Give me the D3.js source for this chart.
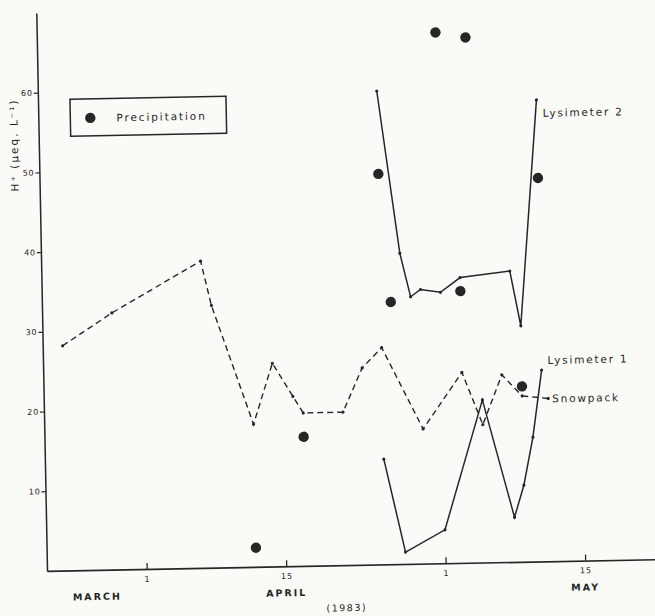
<!DOCTYPE html>
<html>
<head>
<meta charset="utf-8">
<style>
  body { margin: 0; background: #fafaf7; }
  svg { display: block; font-family: "DejaVu Sans", sans-serif; }
</style>
</head>
<body>
<div id="container"></div>
<script src="https://d3js.org/d3.v7.min.js"></script>
<script>

// Values (H+ in ueq/L), 1983.
const snowDates = ["1983-03-24", "1983-03-29", "1983-04-07", "1983-04-08", "1983-04-12", "1983-04-14",
                   "1983-04-16", "1983-04-17", "1983-04-21", "1983-04-23", "1983-04-25", "1983-04-29",
                   "1983-05-03", "1983-05-05", "1983-05-07", "1983-05-09"];
const snowValues = [28.2, 32.2, 38.5, 32.9, 17.9, 25.5, 21.3, 19.2, 19.2, 24.7, 27.2, 16.9, 23.9, 17.3, 23.5, 20.8];

const lys1Dates = ["1983-04-25", "1983-04-27", "1983-05-01", "1983-05-05", "1983-05-08", "1983-05-09", "1983-05-10", "1983-05-11"];
const lys1Values = [13.2, 1.5, 4.2, 20.4, 5.6, 9.6, 15.6, 24.0];

const lys2Dates = ["1983-04-25", "1983-04-27", "1983-04-28", "1983-04-29", "1983-05-01", "1983-05-03", "1983-05-08", "1983-05-09", "1983-05-11"];
const lys2Values = [59.4, 39.0, 33.5, 34.4, 34.0, 35.8, 36.5, 29.6, 57.9];

const precipDates = ["1983-04-12", "1983-04-17", "1983-04-25", "1983-04-26", "1983-05-01", "1983-05-03", "1983-05-04", "1983-05-09", "1983-05-11"];
const precipValues = [2.4, 16.2, 49.0, 32.9, 66.6, 34.1, 65.9, 22.0, 48.1];

const xTickDates = ["1983-04-01", "1983-04-15", "1983-05-01", "1983-05-15"];
const xTickLabels = ["1", "15", "1", "15"];
const monthDates = ["1983-03-27", "1983-04-15", "1983-05-15"];
const monthLabels = ["MARCH", "APRIL", "MAY"];
const yTicks = [10, 20, 30, 40, 50, 60];

// Declare the chart dimensions and margins.
const width = 655;
const height = 616;
const marginTop = 11;
const marginRight = 0;
const marginBottom = 47;
const marginLeft = 47;
const tilt = -1.1; // the scanned page sits slightly skewed
const ink = "#262626";

const parse = d3.utcParse("%Y-%m-%d");
const zip = (ds, vs) => ds.map((d, i) => ({date: parse(d), value: vs[i]}));
const snow = zip(snowDates, snowValues);
const lys1 = zip(lys1Dates, lys1Values);
const lys2 = zip(lys2Dates, lys2Values);
const precip = zip(precipDates, precipValues);

const x = d3.scaleUtc()
    .domain([parse("1983-03-22"), parse("1983-05-22")])
    .range([marginLeft, width - marginRight]);

const y = d3.scaleLinear()
    .domain([0, 70])
    .range([height - marginBottom, marginTop]);

const svg = d3.create("svg")
    .attr("width", width)
    .attr("height", height);

const g = svg.append("g")
    .attr("transform", `rotate(${tilt},${x(parse("1983-04-01"))},${y(0)})`)
    .attr("fill", ink);

// x axis, ticks pointing up into the plot
g.append("g")
    .attr("transform", `translate(0,${y(0)})`)
    .call(d3.axisBottom(x)
        .tickValues(xTickDates.map(parse))
        .tickFormat((d, i) => xTickLabels[i])
        .tickSize(-6)
        .tickSizeOuter(0)
        .tickPadding(7))
    .call(g => g.select(".domain").attr("stroke", ink).attr("stroke-width", 1.7))
    .call(g => g.selectAll(".tick line").attr("stroke", ink).attr("stroke-width", 1.3))
    .call(g => g.selectAll(".tick text")
        .attr("fill", ink)
        .attr("font-family", "DejaVu Sans")
        .attr("font-size", 8)
        .attr("letter-spacing", 0.8));

// y axis
g.append("g")
    .attr("transform", `translate(${marginLeft},0)`)
    .call(d3.axisLeft(y)
        .tickValues(yTicks)
        .tickSize(4)
        .tickPadding(1)
        .tickSizeOuter(0))
    .call(g => g.select(".domain").attr("stroke", ink).attr("stroke-width", 1.5))
    .call(g => g.selectAll(".tick line").attr("stroke", ink).attr("stroke-width", 1.2))
    .call(g => g.selectAll(".tick text")
        .attr("fill", ink)
        .attr("font-family", "DejaVu Sans")
        .attr("font-size", 8)
        .attr("letter-spacing", 0.8));

// month names and year
g.append("g")
    .selectAll("text")
    .data(monthLabels)
    .join("text")
    .attr("x", (d, i) => x(parse(monthDates[i])))
    .attr("y", y(0) + 30)
    .attr("text-anchor", "middle")
    .attr("font-size", 9.5)
    .attr("font-weight", "bold")
    .attr("letter-spacing", 2)
    .text(d => d);

g.append("text")
    .attr("x", x(parse("1983-04-21")))
    .attr("y", y(0) + 46)
    .attr("text-anchor", "middle")
    .attr("font-size", 9.5)
    .attr("letter-spacing", 1.5)
    .text("(1983)");

// y title
g.append("text")
    .attr("transform", `translate(${marginLeft - 21},${y(53.5)}) rotate(-90)`)
    .attr("text-anchor", "middle")
    .attr("font-size", 10.5)
    .attr("letter-spacing", 2)
    .text("H⁺ (μeq. L⁻¹)");

const line = d3.line()
    .x(d => x(d.date))
    .y(d => y(d.value));

// snowpack (dashed)
g.append("path")
    .attr("fill", "none")
    .attr("stroke", ink)
    .attr("stroke-width", 1.4)
    .attr("stroke-dasharray", "6,4")
    .attr("d", line(snow));

// lysimeters (solid)
for (const series of [lys1, lys2]) {
  g.append("path")
      .attr("fill", "none")
      .attr("stroke", ink)
      .attr("stroke-width", 1.5)
      .attr("d", line(series));
}

// small vertex dots
g.append("g")
    .selectAll("circle")
    .data([...snow, ...lys1, ...lys2])
    .join("circle")
    .attr("cx", d => x(d.date))
    .attr("cy", d => y(d.value))
    .attr("r", 1.6);

// precipitation dots
g.append("g")
    .selectAll("circle")
    .data(precip)
    .join("circle")
    .attr("cx", d => x(d.date))
    .attr("cy", d => y(d.value))
    .attr("r", 5.2);

// series labels
const labelStyle = t => t.attr("font-size", 10.5).attr("letter-spacing", 1.8);
const lastLys2 = lys2[lys2.length - 1];
const lastLys1 = lys1[lys1.length - 1];
const lastSnow = snow[snow.length - 1];

g.append("text")
    .attr("x", x(lastLys2.date) + 6)
    .attr("y", y(lastLys2.value) + 17)
    .call(labelStyle)
    .text("Lysimeter 2");

g.append("text")
    .attr("x", x(lastLys1.date) + 6)
    .attr("y", y(lastLys1.value) - 6)
    .call(labelStyle)
    .text("Lysimeter 1");

g.append("line")
    .attr("x1", x(lastSnow.date))
    .attr("y1", y(lastSnow.value))
    .attr("x2", x(lastSnow.date) + 26)
    .attr("y2", y(lastSnow.value) + 3)
    .attr("stroke", ink)
    .attr("stroke-width", 1.4)
    .attr("stroke-dasharray", "6,4");

g.append("circle")
    .attr("cx", x(lastSnow.date) + 26)
    .attr("cy", y(lastSnow.value) + 3)
    .attr("r", 1.6);

g.append("text")
    .attr("x", x(lastSnow.date) + 30)
    .attr("y", y(lastSnow.value) + 7)
    .call(labelStyle)
    .text("Snowpack");

// legend box
const legend = g.append("g")
    .attr("transform", `translate(${marginLeft + 32},${y(59.1)})`);

legend.append("rect")
    .attr("width", 156)
    .attr("height", 37)
    .attr("fill", "none")
    .attr("stroke", ink)
    .attr("stroke-width", 1.5);

legend.append("circle")
    .attr("cx", 20)
    .attr("cy", 19)
    .attr("r", 5.2);

legend.append("text")
    .attr("x", 46)
    .attr("y", 23)
    .attr("font-size", 10.5)
    .attr("letter-spacing", 1.9)
    .text("Precipitation");

container.append(svg.node());
</script>
</body>
</html>
